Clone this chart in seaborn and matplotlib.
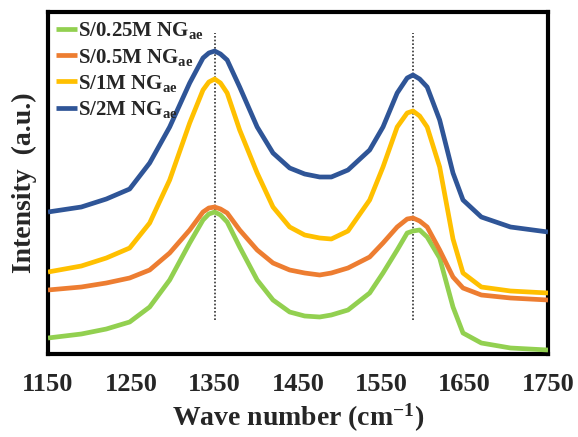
import numpy as np
import pandas as pd
import matplotlib
matplotlib.use("Agg")
import matplotlib.pyplot as plt
import seaborn as sns

wavenumber = [1150, 1190, 1220, 1248, 1272, 1296, 1320, 1336, 1343, 1350, 1357, 1365, 1380,
              1401, 1420, 1440, 1458, 1476, 1490, 1510, 1536, 1552, 1569, 1581, 1588, 1596, 1605,
              1620, 1636, 1648, 1670, 1705, 1750]

s_025 = [16, 20, 25, 32, 47, 74, 111, 134, 140, 142, 139, 132, 107,
         74, 54, 42, 38, 37, 39, 44, 61, 81, 104, 121, 123, 124, 117,
         96, 47, 21, 11, 6, 4]
s_05 = [64, 67, 71, 76, 84, 101, 124, 142, 146, 147, 145, 141, 124,
        104, 91, 84, 81, 79, 81, 86, 97, 111, 127, 135, 136, 133, 127,
        104, 77, 66, 59, 56, 54]
s_1 = [82, 88, 96, 106, 131, 174, 231, 264, 272, 275, 271, 261, 224,
       181, 147, 127, 119, 116, 115, 123, 154, 187, 227, 241, 243, 238, 227,
       187, 115, 81, 67, 63, 61]
s_2 = [142, 147, 155, 165, 191, 227, 271, 296, 301, 303, 300, 294, 267,
       227, 201, 186, 180, 177, 177, 184, 204, 227, 261, 276, 279, 275, 267,
       234, 181, 154, 137, 127, 122]

series_labels = ["S/0.25M NG$_{ae}$", "S/0.5M NG$_{ae}$", "S/1M NG$_{ae}$", "S/2M NG$_{ae}$"]
series_values = [s_025, s_05, s_1, s_2]
colors = ["#92D050", "#ED7D31", "#FFC000", "#2F5597"]
peak_positions = [1350, 1588]
xticks = [1150, 1250, 1350, 1450, 1550, 1650, 1750]

sns.set_theme(style="white")
plt.rcParams["font.family"] = ["Liberation Serif", "DejaVu Serif"]
plt.rcParams["font.weight"] = "bold"
plt.rcParams["mathtext.fontset"] = "custom"
plt.rcParams["mathtext.rm"] = "Liberation Serif:bold"
plt.rcParams["mathtext.it"] = "Liberation Serif:bold"
plt.rcParams["mathtext.bf"] = "Liberation Serif:bold"
plt.rcParams["mathtext.default"] = "rm"

rows = []
for lab, vals in zip(series_labels, series_values):
    for x, y in zip(wavenumber, vals):
        rows.append({"Wave number": x, "Intensity": y, "Sample": lab})
df = pd.DataFrame(rows)

fig = plt.figure(figsize=(5.78, 4.37), dpi=100)
ax = fig.add_axes([48 / 578, 1 - 354 / 437, 500 / 578, 342 / 437])

for xp in peak_positions:
    ax.plot([xp, xp], [34, 321], color="#333333", lw=1.2, ls=(0, (1, 1.2)), zorder=1)

sns.lineplot(data=df, x="Wave number", y="Intensity", hue="Sample",
             hue_order=series_labels, palette=colors, linewidth=3.4,
             ax=ax, sort=True, zorder=3)
for ln in ax.get_lines():
    ln.set_solid_joinstyle("round")
    ln.set_solid_capstyle("butt")

ax.set_xlim(1150, 1750)
ax.set_ylim(0, 342)
ax.set_xticks(xticks)
ax.set_xticklabels([str(t) for t in xticks], fontsize=19, fontweight="bold")
ax.set_yticks([])
ax.tick_params(axis="x", direction="out", length=6.5, width=2.5, color="black", pad=7.5)
for sp in ax.spines.values():
    sp.set_color("black")
    sp.set_linewidth(3)
ax.set_xlabel("Wave number (cm$^{-1}$)", fontsize=20, fontweight="bold", labelpad=4)
ax.set_ylabel("Intensity  (a.u.)", fontsize=20, fontweight="bold", labelpad=8)

leg = ax.legend(loc="upper left", frameon=False, fontsize=15, handlelength=1.0,
                handletextpad=0.05, labelspacing=0.25, borderaxespad=0.0,
                borderpad=0.4, bbox_to_anchor=(0.0, 1.0))
for line in leg.get_lines():
    line.set_linewidth(3.4)

fig.savefig("out.png", dpi=100)
